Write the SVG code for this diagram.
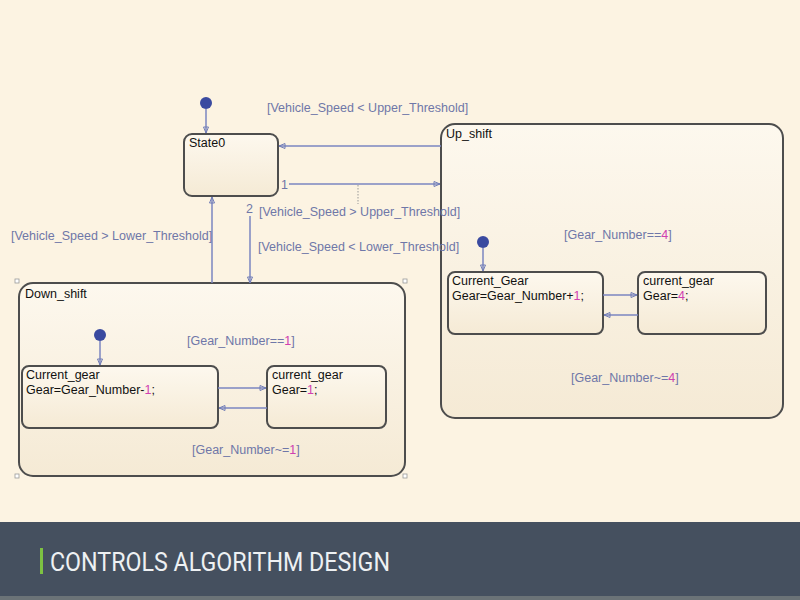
<svg xmlns="http://www.w3.org/2000/svg" width="800" height="600" viewBox="0 0 800 600">
<defs>
<linearGradient id="sg" x1="0" y1="0" x2="0" y2="1"><stop offset="0" stop-color="#fdf8ee"/><stop offset="1" stop-color="#f5ead5"/></linearGradient>
<marker id="ah" viewBox="0 0 8 8" refX="7" refY="4" markerWidth="8" markerHeight="8" orient="auto" markerUnits="userSpaceOnUse"><path d="M1,1.5 L7,4 L1,6.5 Z" fill="none" stroke="#6f7bb5" stroke-width="1"/></marker>
</defs>
<style>
.st{fill:url(#sg);stroke:#4d4d4d;stroke-width:2}
.c{stroke:#7b86c0;stroke-width:1.5;fill:none}
.lb{font-family:"Liberation Sans",Arial,sans-serif;font-size:12.5px;fill:#6f77a8}
.nm{font-family:"Liberation Sans",Arial,sans-serif;font-size:12.5px;fill:#111}
.mg{fill:#d040b0}
.dot{fill:#3a4aa0}
.h{fill:#fff;stroke:#999;stroke-width:0.8}
</style>
<rect width="800" height="522" fill="#fcf3e2"/>
<rect y="522" width="800" height="78" fill="#45505f"/>
<rect y="596" width="800" height="4" fill="#6b7377"/>
<rect x="40" y="548" width="3" height="26" fill="#7dc242"/>
<text x="50" y="571" font-family="Roboto,'Liberation Sans',sans-serif" font-size="26" fill="#eef1f3" textLength="340" lengthAdjust="spacingAndGlyphs">CONTROLS ALGORITHM DESIGN</text>

<g id="up_shift"><rect class="st" x="441" y="124" width="342" height="294" rx="14"/><text class="nm" x="446" y="138">Up_shift</text></g>
<g id="down_shift"><rect class="st" x="19" y="283" width="386" height="193" rx="14"/><text class="nm" x="25" y="298">Down_shift</text>
<rect class="h" x="15" y="279" width="4" height="4"/><rect class="h" x="403" y="279" width="4" height="4"/><rect class="h" x="15" y="474" width="4" height="4"/><rect class="h" x="403" y="474" width="4" height="4"/></g>
<g id="state0"><rect class="st" x="184" y="134" width="94" height="62" rx="8"/><text class="nm" x="189" y="147">State0</text></g>
<g id="ds_current"><rect class="st" x="22" y="366" width="196" height="62" rx="7"/><text class="nm" x="26" y="379">Current_gear</text><text class="nm" x="26" y="394">Gear=Gear_Number-<tspan class="mg">1</tspan>;</text></g>
<g id="ds_gear1"><rect class="st" x="267" y="366" width="119" height="62" rx="7"/><text class="nm" x="272" y="379">current_gear</text><text class="nm" x="272" y="394">Gear=<tspan class="mg">1</tspan>;</text></g>
<g id="us_current"><rect class="st" x="448" y="272" width="155" height="62" rx="7"/><text class="nm" x="452" y="285">Current_Gear</text><text class="nm" x="452" y="300">Gear=Gear_Number+<tspan class="mg">1</tspan>;</text></g>
<g id="us_gear4"><rect class="st" x="638" y="272" width="128" height="62" rx="7"/><text class="nm" x="643" y="285">current_gear</text><text class="nm" x="643" y="300">Gear=<tspan class="mg">4</tspan>;</text></g>
<g id="init"><circle class="dot" cx="206" cy="103" r="6"/><circle class="dot" cx="100" cy="335" r="6"/><circle class="dot" cx="483" cy="242" r="6"/></g>

<g id="connectors">
<path class="c" d="M206,109 V133" marker-end="url(#ah)"/>
<path class="c" d="M441,146 H279" marker-end="url(#ah)"/>
<path class="c" d="M289,184 H440" marker-end="url(#ah)"/>
<path d="M358,185 V204" stroke="#999" stroke-width="1" stroke-dasharray="1.5,1.5"/>
<path class="c" d="M250,216 V283" marker-end="url(#ah)"/>
<path class="c" d="M212,283 V197" marker-end="url(#ah)"/>
<path class="c" d="M100,341 V365" marker-end="url(#ah)"/>
<path class="c" d="M218,388 H266" marker-end="url(#ah)"/>
<path class="c" d="M267,408 H219" marker-end="url(#ah)"/>
<path class="c" d="M483,248 V271" marker-end="url(#ah)"/>
<path class="c" d="M603,295 H637" marker-end="url(#ah)"/>
<path class="c" d="M638,315 H604" marker-end="url(#ah)"/>
<text class="lb" x="267" y="112">[Vehicle_Speed &lt; Upper_Threshold]</text>
<text class="lb" x="281" y="189">1</text>
<text class="lb" x="246" y="213">2</text>
<text class="lb" x="259" y="216">[Vehicle_Speed &gt; Upper_Threshold]</text>
<text class="lb" x="258" y="251">[Vehicle_Speed &lt; Lower_Threshold]</text>
<text class="lb" x="11" y="240">[Vehicle_Speed &gt; Lower_Threshold]</text>
<text class="lb" x="187" y="345">[Gear_Number==<tspan class="mg">1</tspan>]</text>
<text class="lb" x="192" y="454">[Gear_Number~=<tspan class="mg">1</tspan>]</text>
<text class="lb" x="564" y="239">[Gear_Number==<tspan class="mg">4</tspan>]</text>
<text class="lb" x="571" y="382">[Gear_Number~=<tspan class="mg">4</tspan>]</text>
</g>
</svg>
